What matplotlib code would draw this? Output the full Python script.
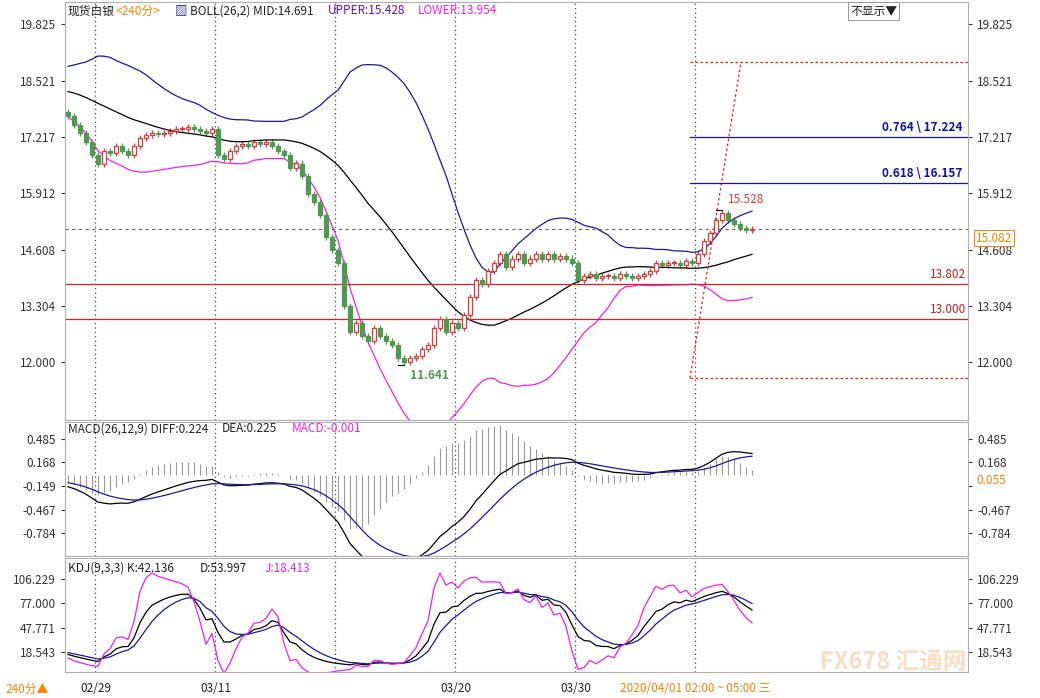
import numpy as np
import matplotlib
matplotlib.use("Agg")
import matplotlib.pyplot as plt
from matplotlib.patches import Rectangle

plt.rcParams['font.family'] = ['Noto Sans CJK SC', 'DejaVu Sans']

prelude = [18.3,18.4,18.5,18.6,18.5,18.4,18.5,18.6,18.7,18.6,18.5,18.4,18.3,18.4,18.5,18.4,18.3,18.2,18.1,18.0,17.9,17.8,17.9,18.0,17.9,17.8]
closes = [17.7,17.5,17.3,17.1,16.8, 16.6,16.9,16.85,17.0,16.9, 16.8,17.0,17.2,17.25,17.3,
          17.28,17.3,17.35,17.4,17.4, 17.45,17.4,17.35,17.3,17.4, 16.8,16.7,16.9,17.0,17.05,
          17.0,17.1,17.05,17.1,17.0, 16.9,16.8,16.5,16.6,16.3, 15.9,15.7,15.4,14.9,14.6,
          14.3,13.3,12.7,12.9,12.6, 12.5,12.8,12.6,12.5,12.4, 12.1,12.0,12.1,12.15,12.3,
          12.4,12.8,13.0,12.7,12.9, 12.8,13.1,13.5,13.9,13.8, 14.1,14.3,14.5,14.2,14.4,
          14.5,14.3,14.4,14.5,14.4, 14.5,14.4,14.45,14.4,14.3, 13.9,14.0,14.05,13.95,14.0,
          14.0,13.95,14.05,14.0,13.95, 14.0,14.05,14.1,14.3,14.25, 14.3,14.3,14.25,14.35,14.3,
          14.5,14.8,15.0,15.3,15.45, 15.3,15.2,15.1,15.05,15.08]
date_labels = ['02/29', '03/11', '03/20', '03/30']
date_idx = [5, 25, 65, 85]
grid_idx = [4.5, 24.5, 44.5, 64.5, 84.5, 104.5]
price_ticks = [19.825, 18.521, 17.217, 15.912, 14.608, 13.304, 12.000]
macd_ticks = [0.485, 0.168, -0.149, -0.467, -0.784]
kdj_ticks = [106.229, 77.000, 47.771, 18.543]
fib_levels = [17.224, 16.157]
fib_names = ['0.764', '0.618']
support = [13.802, 13.000]
last_price = 15.082

allc = np.array(prelude + closes)
P = len(prelude)
opens_all = np.concatenate([[allc[0]], allc[:-1]])
wick = 0.07
highs_all = np.maximum(opens_all, allc) + wick
lows_all = np.minimum(opens_all, allc) - wick
n = len(closes)
x = np.arange(n)

mid = np.array([allc[max(0, i-25):i+1].mean() for i in range(len(allc))])
sd = np.array([allc[max(0, i-25):i+1].std() for i in range(len(allc))])
up, lo = mid + 2*sd, mid - 2*sd

def ema(a, k):
    out = np.zeros_like(a); out[0] = a[0]
    al = 2/(k+1)
    for i in range(1, len(a)):
        out[i] = al*a[i] + (1-al)*out[i-1]
    return out
diff = ema(allc, 12) - ema(allc, 26)
dea = ema(diff, 9)
hist = 2*(diff - dea)

K = np.zeros(len(allc)); D = np.zeros(len(allc))
kp, dp = 50, 50
for i in range(len(allc)):
    hh = highs_all[max(0, i-8):i+1].max(); ll = lows_all[max(0, i-8):i+1].min()
    rsv = (allc[i]-ll)/(hh-ll)*100 if hh > ll else 50
    kp = (2*kp + rsv)/3; dp = (2*dp + kp)/3
    K[i] = kp; D[i] = dp
J = 3*K - 2*D

sl = slice(P, None)
W, H = 1040, 698
fig = plt.figure(figsize=(10.4, 6.98), dpi=100)
L, R = 65, 968
def ax_at(top, bot):
    return fig.add_axes([L/W, 1-bot/H, (R-L)/W, (bot-top)/H])

xlim = (-0.5, (R-68)/6)
ax1 = ax_at(2, 420); ax2 = ax_at(422, 556); ax3 = ax_at(558, 672)
for a in (ax1, ax2, ax3):
    a.set_xlim(*xlim)
    a.set_xticks([])
    for s in a.spines.values():
        s.set_color('#b0b0b0'); s.set_linewidth(0.8)
    a.tick_params(axis='y', labelsize=8.5, labelright=True, right=True, left=True, length=3, colors='#333333', labelcolor='#333333')
    for g in grid_idx:
        a.axvline(g, color='#444444', ls=(0, (1, 2.5)), lw=0.9)

ax1.set_ylim(10.66, 20.34)
ax1.set_yticks(price_ticks); ax1.set_yticklabels([f'{t:.3f}' for t in price_ticks])
ax2.set_ylim(-1.095, 0.715)
ax2.set_yticks(macd_ticks); ax2.set_yticklabels([f'{t:.3f}' for t in macd_ticks])
ax2.yaxis.get_major_ticks()[2].label2.set_visible(False)
ax3.set_ylim(-5.48, 131.45)
ax3.set_yticks(kdj_ticks); ax3.set_yticklabels([f'{t:.3f}' for t in kdj_ticks])

o, c, h, l = opens_all[sl], allc[sl], highs_all[sl], lows_all[sl]
for i in range(n):
    if c[i] >= o[i]:
        col = '#e03a3a'
        ax1.vlines(i, l[i], h[i], color=col, lw=0.9)
        ax1.add_patch(Rectangle((i-0.33, o[i]), 0.66, max(c[i]-o[i], 0.02), facecolor='white', edgecolor=col, lw=0.9, zorder=3))
    else:
        col = '#4f9a4f'
        ax1.vlines(i, l[i], h[i], color=col, lw=0.9)
        ax1.add_patch(Rectangle((i-0.33, c[i]), 0.66, o[i]-c[i], facecolor=col, edgecolor=col, lw=0.9, zorder=3))
ax1.plot(x, mid[sl], color='black', lw=0.9)
ax1.plot(x, up[sl], color='#1a1a9a', lw=0.9)
ax1.plot(x, lo[sl], color='#ee22ee', lw=0.9)

for s in support:
    ax1.axhline(s, color='#e02020', lw=0.9)
    ax1.text(xlim[1]-0.3, s+0.07, f'{s:.3f}', color='#c02020', ha='right', va='bottom', fontsize=8.5)
ax1.axhline(last_price, color='#666666', ls=(0, (3, 3)), lw=0.8)
fx0 = (690-68)/6
ax1.plot([fx0, xlim[1]], [18.95, 18.95], color='#e02020', ls=(0, (2, 2)), lw=0.9)
ax1.plot([fx0, xlim[1]], [11.63, 11.63], color='#e02020', ls=(0, (2, 2)), lw=0.9)
ax1.plot([fx0, (741-68)/6], [11.63, 18.95], color='#e02020', ls=(0, (2, 2)), lw=0.9)
for lv, nm in zip(fib_levels, fib_names):
    ax1.plot([fx0, xlim[1]], [lv, lv], color='#1010cc', lw=0.9)
    ax1.text(xlim[1]-1, lv+0.07, f'{nm} \\ {lv:.3f}', color='#1010aa', ha='right', va='bottom', fontsize=8.5, fontweight='bold')
imin = int(np.argmin(l)); imax = n-20 + int(np.argmax(h[-20:]))
ax1.plot([imin-1, imin], [l[imin], l[imin]], color='black', lw=0.8)
ax1.text(imin+1, l[imin]-0.1, '11.641', color='#4f9a4f', fontsize=8.5, fontweight='bold', va='top')
ax1.plot([imax-1, imax], [h[imax], h[imax]], color='black', lw=0.8)
ax1.text(imax+1, h[imax]+0.1, '15.528', color='#e03a3a', fontsize=8.5, va='bottom')

ax2.vlines(x, 0, hist[sl], color='#999999', lw=0.8)
ax2.plot(x, diff[sl], color='black', lw=0.9)
ax2.plot(x, dea[sl], color='#1a1a9a', lw=0.9)
ax3.plot(x, K[sl], color='black', lw=0.9)
ax3.plot(x, D[sl], color='#1a1a9a', lw=0.9)
ax3.plot(x, J[sl], color='#ee22ee', lw=0.9)

def ftext(px, py, s, col, **kw):
    fig.text(px/W, 1-py/H, s, color=col, fontsize=8.5, va='center', **kw)
ftext(68, 11, '现货白银', '#222222')
ftext(116, 11, '<240分>', '#ff8000')
ftext(190, 11, 'BOLL(26,2) MID:14.691', '#222222')
ftext(328, 11, 'UPPER:15.428', '#6a0dad')
ftext(418, 11, 'LOWER:13.954', '#ee22ee')
fig.text(175/W, 1-11/H, '▨', color='#1a1a9a', fontsize=9, va='center')
ftext(68, 429, 'MACD(26,12,9) DIFF:0.224', '#222222')
ftext(222, 429, 'DEA:0.225', '#222222')
ftext(292, 429, 'MACD:-0.001', '#ee22ee')
ftext(68, 568, 'KDJ(9,3,3) K:42.136', '#222222')
ftext(200, 568, 'D:53.997', '#222222')
ftext(265, 568, 'J:18.413', '#ee22ee')
fig.text(850/W, 1-11/H, '不显示▼', color='#222222', fontsize=8.5, va='center',
         bbox=dict(boxstyle='square,pad=0.2', fc='white', ec='#999999', lw=0.7))
fig.text(976/W, 1-238/H, f'{last_price:.3f}', color='#ff8000', fontsize=8.5, va='center',
         bbox=dict(boxstyle='square,pad=0.15', fc='white', ec='#ff8000', lw=0.7))
fig.text(976/W, 1-481/H, '0.055', color='#ff8000', fontsize=8.5, va='center')
ftext(5, 689, '240分▲', '#ff8000')
for lab, di in zip(date_labels, date_idx):
    xp = 68 + 6*di
    fig.text((xp-2)/W, 1-689/H, lab, color='#222222', fontsize=8.5, va='center', ha='center')
ftext(620, 689, '2020/04/01 02:00 ~ 05:00 三', '#ff8000')
fig.text(820/W, 1-662/H, 'FX678 汇通网', color='#f3c9a0', fontsize=17, fontweight='bold', va='center', alpha=0.6)
fig.savefig('out.png', dpi=100, facecolor='white')
